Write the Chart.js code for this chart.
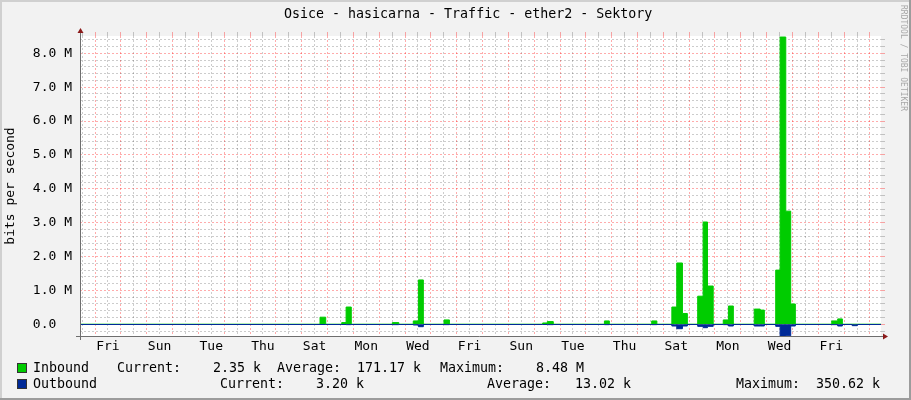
<!DOCTYPE html>
<html>
<head>
<meta charset="utf-8">
<script src="https://cdn.jsdelivr.net/npm/chart.js@4.4.1/dist/chart.umd.min.js"></script>
<style>
  html, body { margin: 0; padding: 0; background: #f2f2f2; }
  #frame { position: relative; width: 911px; height: 400px; overflow: hidden;
           font-family: "DejaVu Sans Mono", monospace; font-size: 13.3px; color: #000; }
  #frame canvas { position: absolute; left: 0; top: 0; }
  .edge { position: absolute; }
  .t { position: absolute; white-space: pre; line-height: 16px; }
  .sw { position: absolute; width: 10px; height: 10px; border: 1px solid #333; box-sizing: border-box; }
  #brand { position: absolute; left: 899px; top: 5px; writing-mode: vertical-rl;
           font-size: 8px; color: #a8a8a8; white-space: pre; }
</style>
</head>
<body>
<div id="frame">
  <canvas id="traffic" width="911" height="400"></canvas>
  <div class="edge" style="left:0;top:0;width:911px;height:2px;background:#d0d0d0"></div>
  <div class="edge" style="left:0;top:0;width:2px;height:400px;background:#d0d0d0"></div>
  <div class="edge" style="left:909px;top:0;width:2px;height:400px;background:#9c9c9c"></div>
  <div class="edge" style="left:0;top:398px;width:911px;height:2px;background:#9c9c9c"></div>
  <div class="t" style="left:284px;top:6px">Osice - hasicarna - Traffic - ether2 - Sektory</div>
  <div id="brand">RRDTOOL / TOBI OETIKER</div>
  <div id="legend"></div>
</div>
<script>
// time in days from the first midnight shown (a Friday), values in Mbit/s
const days = [-0.59, 8.71, 8.93, 9.55, 9.72, 9.92, 11.51, 11.76, 12.32, 12.52, 12.71, 13.51, 13.72,
  17.33, 17.51, 17.74, 19.72, 19.91, 21.55, 21.75, 22.33, 22.52, 22.74, 22.93, 23.33, 23.54, 23.71,
  23.93, 24.32, 24.52, 24.71, 25.52, 25.75, 25.91, 26.35, 26.52, 26.74, 26.93, 27.11, 28.52, 28.75,
  28.93, 29.31, 29.51, 30.45];
const inbound = [0.003, 0.21, 0.003, 0.05, 0.51, 0.003, 0.05, 0.003, 0.10, 1.31, 0.003, 0.13, 0.003,
  0.04, 0.08, 0.003, 0.10, 0.003, 0.10, 0.003, 0.51, 1.81, 0.32, 0.003, 0.83, 3.02, 1.13,
  0.003, 0.13, 0.54, 0.003, 0.45, 0.42, 0.003, 1.60, 8.48, 3.34, 0.60, 0.003, 0.10, 0.16,
  0.003, 0.003, 0.003, 0.003];
const outbound = [-0.006, -0.006, -0.006, -0.006, -0.01, -0.006, -0.01, -0.006, -0.02, -0.07, -0.006, -0.01, -0.006,
  -0.006, -0.01, -0.006, -0.01, -0.006, -0.01, -0.006, -0.05, -0.13, -0.05, -0.006, -0.06, -0.10, -0.06,
  -0.006, -0.01, -0.05, -0.006, -0.05, -0.05, -0.006, -0.06, -0.35, -0.34, -0.05, -0.006, -0.01, -0.05,
  -0.006, -0.04, -0.006, -0.006];

const dayLabels = ['Fri', 'Sun', 'Tue', 'Thu', 'Sat', 'Mon', 'Wed', 'Fri', 'Sun', 'Tue', 'Thu', 'Sat', 'Mon', 'Wed', 'Fri'];
const statNames = ['Current:', 'Average:', 'Maximum:'];
const inboundStats = ['2.35 k', '171.17 k', '8.48 M'];
const outboundStats = ['3.20 k', '13.02 k', '350.62 k'];

const X_MIN = -0.581, X_MAX = 30.426;
const Y_MIN = -0.345, Y_MAX = 8.51;
const RED = 'rgba(255,0,0,0.33)';
const GREY = 'rgba(0,0,0,0.2)';
const FONT = { family: 'DejaVu Sans Mono', size: 13 };

function stepTicks(min, max, step) {
  const out = [];
  for (let k = Math.ceil(min / step); k * step <= max + 1e-9; k++) {
    out.push({ value: Math.round(k * step * 10) / 10 });
  }
  return out;
}
function isMajor(v) { return Math.abs(v - Math.round(v)) < 1e-6; }
const gridColor = c => isMajor(c.tick.value) ? RED : GREY;

// legend rows, rrdtool style "Name:%8.2lf %s"
function addText(txt, left, top) {
  const d = document.createElement('div');
  d.className = 't';
  d.style.left = left + 'px';
  d.style.top = top + 'px';
  d.textContent = txt;
  document.getElementById('legend').appendChild(d);
}
function addSwatch(color, top) {
  const d = document.createElement('div');
  d.className = 'sw';
  d.style.left = '17px';
  d.style.top = top + 'px';
  d.style.background = color;
  document.getElementById('legend').appendChild(d);
}
function addRow(name, color, stats, top, cols) {
  addSwatch(color, top + 3);
  addText(name, 33, top);
  stats.forEach((s, i) => addText(statNames[i] + s.padStart(10), cols[i], top));
}
addRow('Inbound', '#00CC00', inboundStats, 360, [117, 277, 440]);
addRow('Outbound', '#002A97', outboundStats, 376, [220, 487, 736]);

const plotBackground = {
  id: 'plotBackground',
  beforeDraw(chart) {
    const { ctx, chartArea: a } = chart;
    ctx.save();
    ctx.fillStyle = '#ffffff';
    ctx.fillRect(a.left, a.top, a.right - a.left, a.bottom - a.top);
    ctx.restore();
  }
};

const axisArrows = {
  id: 'axisArrows',
  afterDatasetsDraw(chart) {
    const { ctx, chartArea: a } = chart;
    const x0 = a.left + 0.5, y0 = a.bottom + 0.5;
    ctx.save();
    ctx.strokeStyle = '#6e6e6e';
    ctx.lineWidth = 1;
    ctx.beginPath();
    ctx.moveTo(x0, a.bottom + 4); ctx.lineTo(x0, a.top - 3);
    ctx.moveTo(a.left - 4, y0); ctx.lineTo(a.right + 2, y0);
    ctx.stroke();
    ctx.fillStyle = '#8b1a1a';
    ctx.beginPath();
    ctx.moveTo(x0 - 3, a.top - 3); ctx.lineTo(x0 + 3, a.top - 3); ctx.lineTo(x0, a.top - 8);
    ctx.closePath(); ctx.fill();
    ctx.beginPath();
    ctx.moveTo(a.right + 2, y0 - 3); ctx.lineTo(a.right + 2, y0 + 3); ctx.lineTo(a.right + 7, y0);
    ctx.closePath(); ctx.fill();
    ctx.restore();
  }
};

new Chart(document.getElementById('traffic'), {
  type: 'line',
  data: {
    datasets: [{
      label: 'Outbound',
      data: days.map((d, i) => ({ x: d, y: outbound[i] })),
      stepped: true,
      fill: 'origin',
      backgroundColor: '#002A97',
      borderColor: '#002A97',
      borderWidth: 1,
      pointRadius: 0,
      order: 0
    }, {
      label: 'Inbound',
      data: days.map((d, i) => ({ x: d, y: inbound[i] })),
      stepped: true,
      fill: 'origin',
      backgroundColor: '#00CC00',
      borderColor: '#00CC00',
      borderWidth: 1,
      pointRadius: 0,
      order: 1
    }]
  },
  options: {
    responsive: false,
    animation: false,
    layout: { padding: { top: 32, right: 26, bottom: 44, left: 0 } },
    plugins: { legend: { display: false }, tooltip: { enabled: false } },
    scales: {
      x: {
        type: 'linear', position: 'bottom', min: X_MIN, max: X_MAX,
        afterBuildTicks: s => { s.ticks = stepTicks(X_MIN, X_MAX, 0.5); },
        afterFit: s => { s.height = 20; },
        grid: { color: gridColor, drawTicks: false },
        border: { display: false, dash: [2, 2] },
        ticks: {
          autoSkip: false, maxRotation: 0, minRotation: 0, padding: 3,
          color: '#000', font: FONT,
          callback: v => {
            const i = (v - 0.5) / 2;
            return Number.isInteger(i) && dayLabels[i] ? dayLabels[i] : '';
          }
        }
      },
      xTop: {
        type: 'linear', position: 'top', min: X_MIN, max: X_MAX,
        afterBuildTicks: s => { s.ticks = stepTicks(X_MIN, X_MAX, 0.5); },
        afterFit: s => { s.height = 4; },
        grid: { drawOnChartArea: false, tickLength: 4, tickColor: gridColor },
        border: { display: false },
        ticks: { display: false }
      },
      y: {
        type: 'linear', position: 'left', min: Y_MIN, max: Y_MAX,
        afterBuildTicks: s => { s.ticks = stepTicks(Y_MIN, Y_MAX, 0.2); },
        afterFit: s => { s.width = 80; },
        grid: { color: gridColor, drawTicks: false },
        border: { display: false, dash: [2, 2] },
        title: { display: true, text: 'bits per second', color: '#000', font: FONT, padding: { top: 3, bottom: 0 } },
        ticks: {
          autoSkip: false, padding: 8, color: '#000', font: FONT,
          callback: v => {
            if (!isMajor(v) || v < 0) return '';
            return v === 0 ? '0.0  ' : v.toFixed(1) + ' M';
          }
        }
      },
      yRight: {
        type: 'linear', position: 'right', min: Y_MIN, max: Y_MAX,
        afterBuildTicks: s => { s.ticks = stepTicks(Y_MIN, Y_MAX, 0.2); },
        afterFit: s => { s.width = 4; },
        grid: { drawOnChartArea: false, tickLength: 4, tickColor: gridColor },
        border: { display: false },
        ticks: { display: false }
      }
    }
  },
  plugins: [plotBackground, axisArrows]
});
</script>
</body>
</html>
